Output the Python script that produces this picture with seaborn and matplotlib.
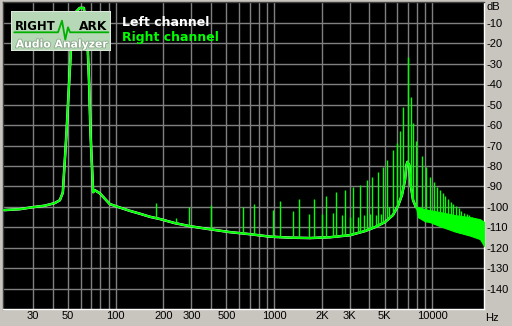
import numpy as np
import matplotlib
matplotlib.use("Agg")
import matplotlib.pyplot as plt
import seaborn as sns
from matplotlib.patches import Rectangle
import matplotlib.patheffects as pe

# ---------------- data ----------------
floor_freq = [19.3, 24.7, 30, 35.6, 41.2, 44.3, 45.9, 46.3, 48.8, 50.7, 52.7, 55.9,
              59.2, 62.8, 65.9, 67.8, 69.2, 71.9, 73.6, 79.2, 91.6, 106, 122.6, 141.8,
              164, 189.7, 236, 293.6, 392.7, 525, 702, 939, 1258, 1682, 2250, 3010,
              3744, 4333, 5013, 5625, 6051, 6415, 6705, 6850, 6950, 7135, 7290, 7540, 7870]
floor_db = [-101.6, -101.1, -100.1, -99.4, -98.1, -96.7, -93.7, -92.8, -63.9, -39.5, -15.1, -4.8,
            -2.8, -2.8, -15.1, -39.5, -63.9, -92.8, -91.8, -93.3, -98.6, -100.3, -101.9, -103.3,
            -104.8, -105.9, -107.9, -109.4, -110.9, -112.3, -113.3, -114.5, -115.0, -115.2, -114.8, -113.8,
            -111.8, -109.9, -107.4, -104.0, -99.6, -94.2, -86.9, -79.6, -78.0, -79.6, -89.4, -96.7, -100.1]

band_freq = [7870, 8098, 8966, 9643, 11155, 13870, 17260, 19960, 21250]
band_top_db = [-100.1, -100.1, -101.1, -101.6, -102.5, -104.0, -105.0, -106.0, -107.4]
band_bottom_db = [-100.1, -105.0, -107.0, -107.4, -109.4, -112.0, -114.0, -115.7, -119.2]

spike_freq = [179, 239, 290.5, 398.4, 631.8, 744.7, 977.7, 1087, 1319, 1427, 1665, 1783,
              2012, 2123, 2361, 2467, 2692, 2812, 3024, 3159, 3398, 3499, 3707, 3839,
              4027, 4147, 4400, 4545, 4750, 4888, 5182, 5350, 5604, 5940, 6258, 6557,
              6980, 7281, 7563, 7922, 8546, 9096, 9714, 10221, 10724, 11155, 11602,
              12045, 12531, 13034, 13537, 14077, 14641, 15205, 15812, 16444, 17080,
              17764, 18475, 19190, 19960]
spike_db = [-98.3, -105.6, -100.2, -99.1, -100.2, -98.6, -101.6, -97.2, -102.1, -96.2, -103.5, -96.2,
            -103.5, -94.6, -103.2, -92.9, -104.0, -91.8, -104.8, -90.2, -104.8, -89.3, -104.0, -86.9,
            -103.5, -85.3, -104.0, -83.1, -103.5, -80.7, -77.1, -100.0, -72.2, -68.7, -62.8, -51.4,
            -27.0, -46.2, -59.2, -67.8, -74.9, -80.3, -85.2, -87.7, -90.5, -91.8, -93.1,
            -94.7, -96.0, -97.5, -98.6, -99.6, -100.7, -101.9, -102.9, -103.5, -104.0,
            -104.8, -105.6, -106.1, -106.5]

y_ticks = [-10, -20, -30, -40, -50, -60, -70, -80, -90, -100, -110, -120, -130, -140]
y_tick_labels = ["-10", "-20", "-30", "-40", "-50", "-60", "-70", "-80", "-90",
                 "-100", "-110", "-120", "-130", "-140"]
x_ticks = [30, 50, 100, 200, 300, 500, 1000, 2000, 3000, 5000, 10000]
x_tick_labels = ["30", "50", "100", "200", "300", "500", "1000", "2K", "3K", "5K", "10000"]
grid_freqs = [30, 40, 50, 60, 70, 80, 90, 100, 200, 300, 400, 500, 600, 700, 800, 900,
              1000, 2000, 3000, 4000, 5000, 6000, 7000, 8000, 9000, 10000]
series_names = ["Left channel", "Right channel"]

# ---------------- style ----------------
BG = "#C8C4BE"
GREEN = "#00FF00"
GRID = "#808080"
sns.set_theme(style="dark")
plt.rcParams["font.family"] = ["Liberation Sans", "DejaVu Sans"]

W, H = 512, 326
fig = plt.figure(figsize=(W / 100, H / 100), dpi=100, facecolor=BG)
L, R, T, B = 2.7, 484.3, 2.2, 309.3
ax = fig.add_axes([L / W, (H - B) / H, (R - L) / W, (B - T) / H])
ax.set_facecolor("black")
ax.set_xscale("log")
ax.set_xlim(19.3, 21250)
ax.set_ylim(-150, 0)

for f in grid_freqs:
    ax.axvline(f, color=GRID, lw=1, zorder=1)
for v in y_ticks:
    ax.axhline(v, color=GRID, lw=1, zorder=1)
ax.grid(False)

# envelope under spikes (floor + lower band edge)
env_f = np.array(floor_freq + band_freq[1:])
env_db = np.array(floor_db + band_bottom_db[1:])
spike_base = np.interp(np.log10(spike_freq), np.log10(env_f), env_db)

# left channel (white) under right channel (green)
sns.lineplot(x=floor_freq, y=floor_db, ax=ax, color="white", lw=1.8,
             estimator=None, sort=False, zorder=2)
ax.fill_between(band_freq, band_bottom_db, band_top_db, color=GREEN, lw=0.8, zorder=3)
ax.vlines(spike_freq, spike_base, spike_db, color=GREEN, lw=1.0, zorder=3)
sns.lineplot(x=floor_freq, y=floor_db, ax=ax, color=GREEN, lw=1.5,
             estimator=None, sort=False, zorder=4)

ax.set_xlabel("")
ax.set_ylabel("")
ax.set_xticks(x_ticks)
ax.set_xticklabels(x_tick_labels)
ax.minorticks_off()
ax.set_xticks([], minor=True)
ax.set_yticks(y_ticks)
ax.set_yticklabels(y_tick_labels)
ax.yaxis.tick_right()
ax.tick_params(axis="both", length=0, labelsize=8, colors="black")
ax.tick_params(axis="x", pad=1.5)
ax.tick_params(axis="y", pad=1.5)
for side, col in (("left", "#404040"), ("top", "#404040"), ("right", "white"), ("bottom", "white")):
    ax.spines[side].set_visible(True)
    ax.spines[side].set_color(col)
    ax.spines[side].set_linewidth(1)

fig.text(486.5 / W, 1 - 7.5 / H, "dB", fontsize=8, va="center", ha="left", color="black")
fig.text(485 / W, 1 - 318 / H, "Hz", fontsize=8, va="center", ha="left", color="black")

# legend texts
fig.text(122.5 / W, 1 - 22 / H, series_names[0], color="white", fontsize=9,
         fontweight="bold", family=["DejaVu Sans"], va="center", ha="left")
fig.text(122.5 / W, 1 - 37.5 / H, series_names[1], color=GREEN, fontsize=9,
         fontweight="bold", family=["DejaVu Sans"], va="center", ha="left")

# logo
lx0, ly0, lw_, lh_ = 11.3, 11.3, 99.4, 40.0
lax = fig.add_axes([lx0 / W, 1 - (ly0 + lh_) / H, lw_ / W, lh_ / H])
lax.set_xlim(0, lw_)
lax.set_ylim(lh_, 0)
lax.axis("off")
lax.add_patch(Rectangle((0, 0), lw_, lh_, facecolor="#B6D8B6", edgecolor="#E4ECE4", lw=1.2))
lax.plot([3, 46.7, 50.7, 54, 56.7, 58.7, 97], [21, 21, 9.4, 28.4, 16, 21, 21],
         color="#00B000", lw=1.3)
lax.text(3.5, 15.2, "RIGHT", fontsize=8.4, fontweight="bold", family=["DejaVu Sans"],
         color="black", va="center", ha="left")
lax.text(96, 15.2, "ARK", fontsize=8.8, fontweight="bold", family=["DejaVu Sans"],
         color="black", va="center", ha="right")
lax.text(50.5, 33.2, "Audio Analyzer", fontsize=7.8, fontweight="bold",
         family=["DejaVu Sans"], color="white", va="center", ha="center",
         path_effects=[pe.withStroke(linewidth=1.2, foreground="#8AA88A")])

fig.savefig("out.png", dpi=100, facecolor=BG)
